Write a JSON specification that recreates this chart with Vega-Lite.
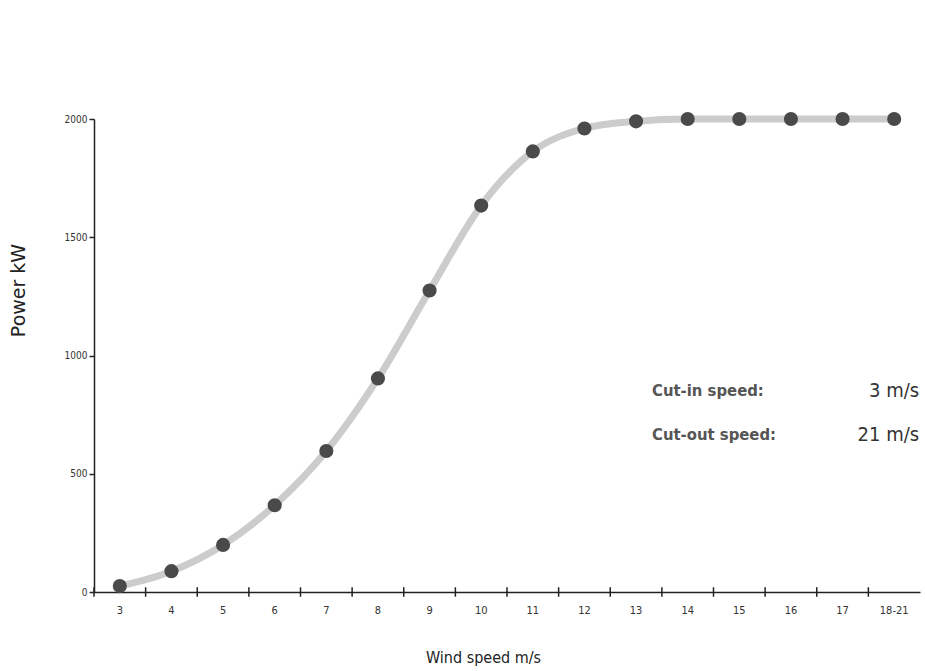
{
  "$schema": "https://vega.github.io/schema/vega-lite/v6.json",
  "width": 826,
  "height": 473,
  "autosize": {"type": "none"},
  "padding": {"left": 94, "top": 119, "right": 5, "bottom": 79},
  "background": "white",
  "config": {"view": {"stroke": null}},
  "datasets": {
    "curve": [
      {"speed": "3", "power": 25},
      {"speed": "4", "power": 88},
      {"speed": "5", "power": 199},
      {"speed": "6", "power": 367},
      {"speed": "7", "power": 596},
      {"speed": "8", "power": 903},
      {"speed": "9", "power": 1275},
      {"speed": "10", "power": 1634},
      {"speed": "11", "power": 1863},
      {"speed": "12", "power": 1960},
      {"speed": "13", "power": 1990},
      {"speed": "14", "power": 2000},
      {"speed": "15", "power": 2000},
      {"speed": "16", "power": 2000},
      {"speed": "17", "power": 2000},
      {"speed": "18-21", "power": 2000}
    ],
    "notes": [
      {"speed": "13", "power": 850, "label": "Cut-in speed:"},
      {"speed": "13", "power": 664, "label": "Cut-out speed:"}
    ],
    "values": [
      {"speed": "18-21", "power": 850, "label": "3 m/s"},
      {"speed": "18-21", "power": 664, "label": "21 m/s"}
    ]
  },
  "encoding": {
    "x": {
      "field": "speed",
      "type": "ordinal",
      "sort": null,
      "scale": {"type": "band", "paddingInner": 0, "paddingOuter": 0},
      "axis": {
        "title": "Wind speed m/s",
        "labelAngle": 0,
        "bandPosition": 0.5,
        "ticks": false,
        "domainColor": "#222",
        "domainWidth": 1.5,
        "labelFont": "DejaVu Sans Condensed, Roboto, sans-serif",
        "labelFontSize": 11,
        "labelColor": "#333",
        "labelPadding": 12,
        "titleFont": "DejaVu Sans Condensed, Roboto, sans-serif",
        "titleFontSize": 16,
        "titleFontWeight": "normal",
        "titleColor": "#222",
        "titleX": 389,
        "titleY": 65,
        "titleBaseline": "middle",
        "titleAnchor": "middle"
      }
    },
    "y": {
      "field": "power",
      "type": "quantitative",
      "scale": {"domain": [0, 2000], "nice": false},
      "axis": {
        "title": "Power kW",
        "values": [0, 500, 1000, 1500, 2000],
        "format": "d",
        "grid": false,
        "domainColor": "#222",
        "domainWidth": 1.5,
        "tickColor": "#222",
        "tickSize": 5,
        "tickWidth": 1.5,
        "labelFont": "DejaVu Sans Condensed, Roboto, sans-serif",
        "labelFontSize": 10,
        "labelColor": "#333",
        "labelPadding": 2,
        "titleFont": "DejaVu Sans",
        "titleFontSize": 19,
        "titleFontWeight": "normal",
        "titleColor": "#222",
        "titleAngle": -90,
        "titleX": -76,
        "titleY": 171,
        "titleBaseline": "middle",
        "titleAnchor": "middle"
      }
    }
  },
  "layer": [
    {
      "data": {"name": "curve"},
      "mark": {"type": "rule"},
      "encoding": {
        "x": {"field": "speed", "type": "ordinal", "sort": null, "bandPosition": 0},
        "y": {"datum": -20},
        "y2": {"datum": 20},
        "color": {"value": "#222"},
        "strokeWidth": {"value": 1.5}
      }
    },
    {
      "data": {"name": "curve"},
      "mark": {"type": "line", "interpolate": "monotone", "color": "#cccccc", "strokeWidth": 7, "strokeCap": "round"}
    },
    {
      "data": {"name": "curve"},
      "mark": {"type": "point", "filled": true, "size": 200, "color": "#4a4a4a", "opacity": 1}
    },
    {
      "data": {"name": "notes"},
      "mark": {"type": "text", "align": "left", "baseline": "middle", "dx": 16, "font": "DejaVu Sans Condensed, Roboto, sans-serif", "fontSize": 16.5, "fontWeight": "bold", "color": "#555"},
      "encoding": {"text": {"field": "label"}}
    },
    {
      "data": {"name": "values"},
      "mark": {"type": "text", "align": "right", "baseline": "middle", "dx": 25, "font": "DejaVu Sans Condensed, Roboto, sans-serif", "fontSize": 20, "color": "#333"},
      "encoding": {"text": {"field": "label"}}
    }
  ]
}
